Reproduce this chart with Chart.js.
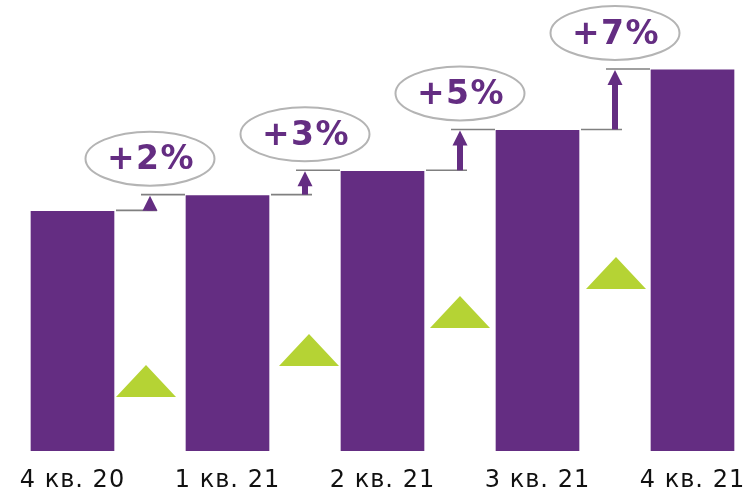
<!DOCTYPE html>
<html>
<head>
<meta charset="utf-8">
<script src="https://cdn.jsdelivr.net/npm/chart.js@4/dist/chart.umd.min.js"></script>
<style>
  html, body { margin: 0; padding: 0; background: #fff; }
  #wrap { width: 749px; height: 492px; }
</style>
</head>
<body>
<div id="wrap"><canvas id="growthChart"></canvas></div>
<script>
// квартальный индекс (4 кв. 20 = 100)
const quarters = ['4 кв. 20', '1 кв. 21', '2 кв. 21', '3 кв. 21', '4 кв. 21'];
const indexValues = [100, 102, 105.1, 110.3, 118];
const growthLabels = ['+2%', '+3%', '+5%', '+7%'];

const PURPLE = '#642d82';
const GREEN = '#b5d334';

// подписи оси чуть шире, как у Verdana
const spacingPlugin = {
    id: 'spacing',
    beforeDraw(chart) {
        chart.ctx.letterSpacing = '1px';
    }
};

// стрелки, линии, овалы с процентами и зелёные треугольники между столбцами
const stepsPlugin = {
    id: 'steps',
    afterDatasetsDraw(chart, args, opts) {
        const ctx = chart.ctx;
        const meta = chart.getDatasetMeta(0);
        const yScale = chart.scales.y;
        const bars = meta.data;

        ctx.save();
        for (let i = 0; i < bars.length - 1; i++) {
            const a = bars[i], b = bars[i + 1];
            const right = a.x + a.width / 2;
            const left = b.x - b.width / 2;
            const mid = (a.x + b.x) / 2;
            const yLow = yScale.getPixelForValue(indexValues[i]) - 1;
            const yHigh = yScale.getPixelForValue(indexValues[i + 1]) - 1;

            // серые горизонтальные линии
            ctx.strokeStyle = '#808080';
            ctx.lineWidth = 1.6;
            ctx.beginPath();
            ctx.moveTo(right + 2, yLow);
            ctx.lineTo(mid + 7, yLow);
            ctx.moveTo(mid - 9, yHigh);
            ctx.lineTo(left - 1, yHigh);
            ctx.stroke();

            // стрелка вверх
            const headH = 15, headW = 15, shaftW = 6;
            ctx.fillStyle = PURPLE;
            ctx.fillRect(mid - shaftW / 2, yHigh + headH - 1, shaftW, Math.max(0, yLow - yHigh - headH + 1));
            ctx.beginPath();
            ctx.moveTo(mid, yHigh + 1);
            ctx.lineTo(mid + headW / 2, yHigh + headH + 1);
            ctx.lineTo(mid - headW / 2, yHigh + headH + 1);
            ctx.closePath();
            ctx.fill();

            // овал с подписью
            const cy = yHigh - 36;
            ctx.strokeStyle = '#b4b4b4';
            ctx.lineWidth = 2;
            ctx.beginPath();
            ctx.ellipse(mid, cy, 64.5, 27, 0, 0, Math.PI * 2);
            ctx.stroke();
            ctx.fillStyle = PURPLE;
            ctx.font = 'bold 33px "DejaVu Sans", Verdana, sans-serif';
            ctx.letterSpacing = '1.5px';
            ctx.textAlign = 'center';
            ctx.textBaseline = 'middle';
            ctx.fillText(growthLabels[i], mid + 1, cy + 2);

            // зелёный треугольник
            const t = opts.triangles[i];
            ctx.fillStyle = GREEN;
            ctx.beginPath();
            ctx.moveTo(mid + t.dx, t.top);
            ctx.lineTo(mid + t.dx + 30, t.top + 32);
            ctx.lineTo(mid + t.dx - 30, t.top + 32);
            ctx.closePath();
            ctx.fill();
        }
        ctx.restore();
    }
};

new Chart(document.getElementById('growthChart'), {
    type: 'bar',
    data: {
        datasets: [{
            data: indexValues.map((v, i) => ({ x: i, y: v })),
            backgroundColor: PURPLE,
            borderWidth: 0,
            barThickness: 83
        }]
    },
    options: {
        responsive: true,
        maintainAspectRatio: false,
        animation: false,
        layout: { padding: 0 },
        plugins: {
            legend: { display: false },
            tooltip: { enabled: false },
            steps: {
                triangles: [
                    { dx: -4, top: 365 },
                    { dx: 4, top: 334 },
                    { dx: 0, top: 296 },
                    { dx: 1, top: 257 }
                ]
            }
        },
        scales: {
            x: {
                type: 'linear',
                offset: false,
                min: -0.4677,
                max: 4.3645,
                grid: { display: false, drawTicks: false, offset: false },
                border: { display: false },
                afterBuildTicks: scale => {
                    scale.ticks = quarters.map((q, i) => ({ value: i }));
                },
                afterFit: scale => {
                    scale.height = 41;
                    scale.paddingLeft = 0;
                    scale.paddingRight = 0;
                },
                ticks: {
                    padding: 15,
                    color: '#111',
                    maxRotation: 0,
                    autoSkip: false,
                    font: { family: '"DejaVu Sans", Verdana, sans-serif', size: 24 },
                    callback: value => quarters[value] ?? ''
                }
            },
            y: {
                display: false,
                min: 69.5,
                max: 126.9
            }
        }
    },
    plugins: [spacingPlugin, stepsPlugin]
});
</script>
</body>
</html>
